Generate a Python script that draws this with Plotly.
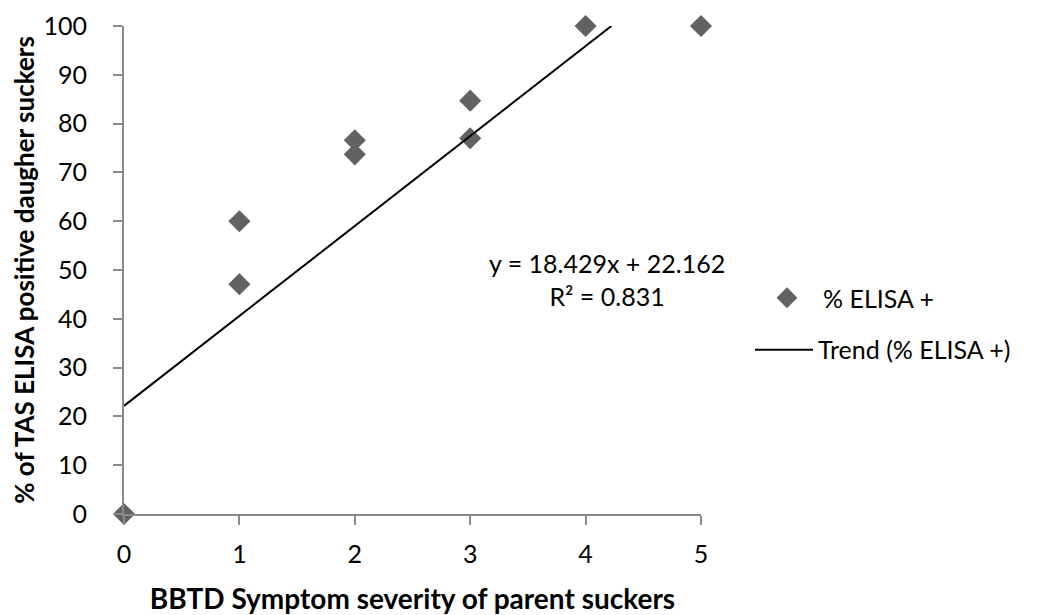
import plotly.graph_objects as go

# Data
severity = [0, 1, 1, 2, 2, 3, 3, 4, 5]
pct_elisa = [0, 60, 47.1, 76.6, 73.7, 84.7, 77.0, 100, 100]

# Trendline (from equation shown on chart)
slope = 18.429
intercept = 22.162
r_squared = 0.831
trend_x = [0, (100 - intercept) / slope]
trend_y = [intercept + slope * x for x in trend_x]

x_ticks = [0, 1, 2, 3, 4, 5]
y_ticks = [0, 10, 20, 30, 40, 50, 60, 70, 80, 90, 100]

FONT = "Lato"
TICK_SIZE = 25
W, H = 1032, 607  # page body adds an 8px margin

fig = go.Figure()
fig.add_trace(go.Scatter(
    x=severity, y=pct_elisa, mode="markers", name="% ELISA +",
    marker=dict(symbol="diamond", size=17, color="#626262"),
    legend="legend", showlegend=True, cliponaxis=False,
))
fig.add_trace(go.Scatter(
    x=trend_x, y=trend_y, mode="lines", name="Trend (% ELISA +)",
    line=dict(color="black", width=2),
    legend="legend2", showlegend=True,
))

fig.add_annotation(
    x=4.185, y=48.1, xref="x", yref="y",
    text=f"y = {slope}x + {intercept}<br>R² = {r_squared}",
    showarrow=False, align="center",
    font=dict(family=FONT, size=TICK_SIZE, color="black"),
)

axis_common = dict(
    showgrid=False, zeroline=False, showline=True, automargin=False,
    linecolor="#8a8a8a", linewidth=2,
    ticks="outside", ticklen=9, tickwidth=2, tickcolor="#8a8a8a",
    tickfont=dict(family=FONT, size=TICK_SIZE, color="black"),
)

fig.update_layout(
    width=W, height=H,
    margin=dict(l=116, r=339, t=18, b=101),
    showlegend=True,
    paper_bgcolor="white", plot_bgcolor="white",
    xaxis=dict(range=[0, 5], tickvals=x_ticks, ticklabelstandoff=8,
               title=dict(text="<b>BBTD Symptom severity of parent suckers</b>",
                          font=dict(family=FONT, size=28, color="black"), standoff=24),
               **axis_common),
    yaxis=dict(range=[0, 100], tickvals=y_ticks, ticklabelstandoff=21,
               title=dict(text="<b>% of TAS ELISA positive daugher suckers</b>",
                          font=dict(family=FONT, size=26, color="black"), standoff=13),
               **axis_common),
    legend=dict(xref="container", yref="container", x=743 / W, y=0.5222,
                xanchor="left", yanchor="middle", itemwidth=62,
                font=dict(family=FONT, size=TICK_SIZE, color="black"), bgcolor="rgba(0,0,0,0)"),
    legend2=dict(xref="container", yref="container", x=742 / W, y=0.4366,
                 xanchor="left", yanchor="middle", itemwidth=58,
                 font=dict(family=FONT, size=TICK_SIZE, color="black"), bgcolor="rgba(0,0,0,0)"),
)

fig.write_html("out.html")
